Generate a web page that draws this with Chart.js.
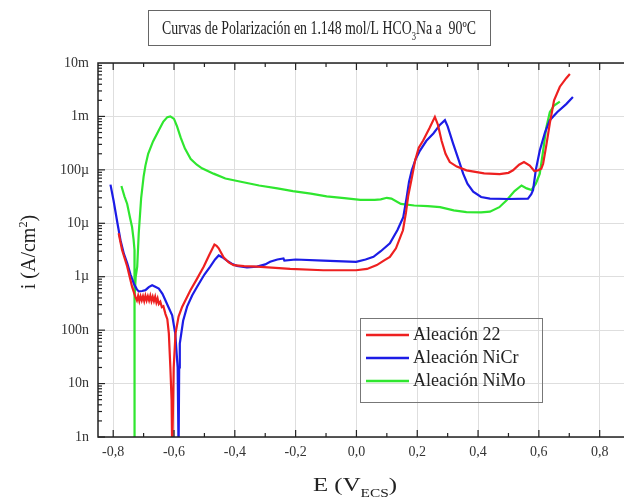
<!DOCTYPE html>
<html>
<head>
<meta charset="utf-8">
<script src="https://cdn.jsdelivr.net/npm/chart.js@4.4.1/dist/chart.umd.min.js"></script>
<style>
  html, body { margin: 0; padding: 0; background: #fff; }
  #wrap { width: 624px; height: 498px; position: relative; }
</style>
</head>
<body>
<div id="wrap"><canvas id="myChart"></canvas></div>
<script>
// series names
let seriesNames = [ 'Aleación 22', 'Aleación NiCr', 'Aleación NiMo' ];

// Aleación 22: potential (V) and current density (A/cm2)
let alloy22E = [ -0.782, -0.771, -0.754, -0.738, -0.727, -0.722, -0.718, -0.714, -0.710, -0.706, -0.702, -0.698,
		-0.694, -0.690, -0.686, -0.682, -0.678, -0.674, -0.670, -0.666, -0.662, -0.658, -0.654, -0.650, -0.645,
		-0.640, -0.635, -0.628, -0.622, -0.617, -0.612, -0.608, -0.606, -0.601, -0.595, -0.585, -0.573, -0.546,
		-0.525, -0.502, -0.485, -0.467, -0.460, -0.453, -0.437, -0.420, -0.404, -0.370, -0.327, -0.218, -0.109,
		-0.001, 0.035, 0.067, 0.090, 0.110, 0.130, 0.153, 0.163, 0.170, 0.182, 0.193, 0.205, 0.219, 0.240, 0.258,
		0.268, 0.280, 0.293, 0.307, 0.330, 0.362, 0.420, 0.471, 0.500, 0.515, 0.535, 0.551, 0.570, 0.585, 0.597,
		0.608, 0.614, 0.625, 0.636, 0.650, 0.669, 0.690, 0.702 ];
let alloy22I = [ 6.5e-6, 3.2e-6, 1.55e-6, 6.5e-7, 4.2e-7, 3.6e-7, 4.4e-7, 3.5e-7, 4.3e-7, 3.6e-7, 4.3e-7, 3.5e-7,
		4.4e-7, 3.6e-7, 4.3e-7, 3.6e-7, 4.4e-7, 3.5e-7, 4.2e-7, 3.5e-7, 4.2e-7, 3.3e-7, 3.9e-7, 3.1e-7, 3.4e-7,
		2.7e-7, 2.8e-7, 2.0e-7, 1.6e-7, 8.7e-8, 2.0e-8, 5e-9, 5e-10, 2.0e-8, 8.7e-8, 1.8e-7, 2.75e-7, 5.6e-7,
		9e-7, 1.55e-6, 2.5e-6, 4.0e-6, 3.8e-6, 3.4e-6, 2.3e-6, 1.85e-6, 1.65e-6, 1.58e-6, 1.55e-6, 1.4e-6, 1.32e-6,
		1.32e-6, 1.4e-6, 1.65e-6, 2.0e-6, 2.35e-6, 3.4e-6, 7.4e-6, 1.6e-5, 3.2e-5, 7e-5, 1.5e-4, 2.6e-4, 3.5e-4, 6e-4, 9.8e-4,
		7e-4, 3.5e-4, 2e-4, 1.4e-4, 1.15e-4, 9.8e-5, 8.6e-5, 8.3e-5, 8.8e-5, 9.8e-5, 1.25e-4, 1.4e-4, 1.2e-4, 9.5e-5, 9.8e-5,
		1.05e-4, 1.3e-4, 3e-4, 7.4e-4, 2e-3, 3.6e-3, 5.2e-3, 6.2e-3 ];

// Aleación NiCr
let nicrE = [ -0.809, -0.799, -0.786, -0.776, -0.765, -0.754, -0.743, -0.732, -0.722, -0.716, -0.705, -0.694,
		-0.683, -0.672, -0.660, -0.650, -0.638, -0.628, -0.617, -0.606, -0.596, -0.588, -0.585, -0.583, -0.581,
		-0.570, -0.557, -0.540, -0.524, -0.500, -0.481, -0.465, -0.453, -0.440, -0.426, -0.410, -0.393, -0.360,
		-0.327, -0.300, -0.284, -0.260, -0.240, -0.237, -0.200, -0.109, -0.001, 0.030, 0.056, 0.080, 0.110, 0.135,
		0.154, 0.165, 0.173, 0.182, 0.195, 0.209, 0.230, 0.253, 0.275, 0.291, 0.300, 0.318, 0.335, 0.351, 0.365,
		0.384, 0.410, 0.439, 0.500, 0.564, 0.575, 0.581, 0.590, 0.603, 0.620, 0.636, 0.660, 0.690, 0.712 ];
let nicrI = [ 5.3e-5, 2.7e-5, 1e-5, 4.8e-6, 2.7e-6, 1.8e-6, 1.1e-6, 7.4e-7, 5.8e-7, 5.3e-7, 5.4e-7, 5.6e-7,
		6.4e-7, 6.9e-7, 6.4e-7, 6e-7, 4.8e-7, 3.6e-7, 2.6e-7, 1.9e-7, 8.7e-8, 2e-8, 5e-10, 2e-8, 5.6e-8,
		1.5e-7, 2.75e-7, 4.5e-7, 6.5e-7, 1.1e-6, 1.55e-6, 2.1e-6, 2.5e-6, 2.3e-6, 2.0e-6, 1.75e-6, 1.6e-6, 1.5e-6,
		1.55e-6, 1.7e-6, 1.9e-6, 2.1e-6, 2.2e-6, 2.0e-6, 2.1e-6, 2.0e-6, 1.9e-6, 2.1e-6, 2.35e-6, 3e-6, 4.2e-6, 7.5e-6,
		1.3e-5, 3e-5, 6e-5, 9.8e-5, 1.6e-4, 2.3e-4, 3.5e-4, 4.8e-4, 7e-4, 8.5e-4, 6.5e-4, 3.1e-4, 1.6e-4, 8.5e-5, 5.5e-5,
		3.9e-5, 3.1e-5, 2.9e-5, 2.85e-5, 2.9e-5, 3.5e-5, 4.2e-5, 1e-4, 2.3e-4, 5e-4, 8.5e-4, 1.2e-3, 1.7e-3, 2.3e-3 ];

// Aleación NiMo
let nimoE = [ -0.773, -0.763, -0.754, -0.745, -0.738, -0.733, -0.730, -0.729, -0.730, -0.731, -0.729, -0.726,
		-0.721, -0.716, -0.708, -0.700, -0.694, -0.685, -0.669, -0.650, -0.635, -0.622, -0.612, -0.600, -0.590,
		-0.578, -0.564, -0.545, -0.525, -0.508, -0.470, -0.431, -0.380, -0.320, -0.260, -0.209, -0.150, -0.098,
		-0.040, 0.013, 0.060, 0.080, 0.100, 0.115, 0.146, 0.190, 0.235, 0.275, 0.320, 0.362, 0.410, 0.439, 0.470,
		0.494, 0.520, 0.543, 0.560, 0.576, 0.590, 0.603, 0.615, 0.624, 0.636, 0.650, 0.669 ];
let nimoI = [ 5e-5, 3.2e-5, 2.3e-5, 1.3e-5, 8.5e-6, 5e-6, 3.2e-6, 1e-6, 4e-7, 5e-10, 4e-7, 1e-6,
		1.55e-6, 6.5e-6, 3e-5, 7.5e-5, 1.2e-4, 2e-4, 3.4e-4, 5.5e-4, 8e-4, 9.7e-4, 1e-3, 9e-4, 6.5e-4,
		4e-4, 2.5e-4, 1.6e-4, 1.25e-4, 1.07e-4, 8.5e-5, 6.9e-5, 6e-5, 5.1e-5, 4.5e-5, 4e-5, 3.6e-5, 3.2e-5,
		2.95e-5, 2.75e-5, 2.75e-5, 2.8e-5, 3.0e-5, 2.9e-5, 2.3e-5, 2.15e-5, 2.1e-5, 2.0e-5, 1.75e-5, 1.62e-5, 1.6e-5, 1.65e-5, 2.0e-5,
		2.7e-5, 4e-5, 5.1e-5, 4.5e-5, 4.2e-5, 5.5e-5, 8.5e-5, 2.5e-4, 6e-4, 1.2e-3, 1.6e-3, 1.9e-3 ];

// axis ticks
let xTickValues = [ -0.8, -0.6, -0.4, -0.2, 0.0, 0.2, 0.4, 0.6, 0.8 ];
let xTickLabels = [ '-0,8', '-0,6', '-0,4', '-0,2', '0,0', '0,2', '0,4', '0,6', '0,8' ];
let yTickValues = [ 1e-9, 1e-8, 1e-7, 1e-6, 1e-5, 1e-4, 1e-3, 1e-2 ];
let yTickLabels = [ '1n', '10n', '100n', '1µ', '10µ', '100µ', '1m', '10m' ];

let colors = [ '#ee2020', '#1c1ce6', '#2fe62f' ];
let serif = "'Liberation Serif', 'DejaVu Serif', serif";

function toPoints(xs, ys) {
	return xs.map((x, i) => ({ x : x, y : ys[i] }));
}

// draw a run of text pieces, some of them sub/superscript
// fitW: squeeze the run horizontally to this width if given
function drawRich(ctx, parts, size, x, y, fitW) {
	let w = 0;
	parts.forEach(p => {
		ctx.font = (p.sub || p.sup ? size * 0.62 : size) + 'px ' + serif;
		w += ctx.measureText(p.t).width;
	});
	let k = fitW ? fitW / w : 1;
	ctx.save();
	ctx.translate(x - w * k / 2, y);
	ctx.scale(k, 1);
	let cx = 0;
	parts.forEach(p => {
		let s = p.sub || p.sup ? size * 0.62 : size;
		ctx.font = s + 'px ' + serif;
		let dy = p.sub ? size * 0.3 : (p.sup ? -size * 0.42 : 0);
		ctx.fillText(p.t, cx, dy);
		cx += ctx.measureText(p.t).width;
	});
	ctx.restore();
}

let frameAndText = {
	id : 'frameAndText',
	afterDraw(chart) {
		let ctx = chart.ctx;
		let a = chart.chartArea;
		let xs = chart.scales.x, ys = chart.scales.y;
		ctx.save();
		ctx.strokeStyle = '#222';
		ctx.fillStyle = '#222';
		ctx.lineWidth = 1.5;
		// frame (left, top, bottom)
		ctx.beginPath();
		ctx.moveTo(a.right + 2, a.top); ctx.lineTo(a.left, a.top);
		ctx.lineTo(a.left, a.bottom); ctx.lineTo(a.right + 2, a.bottom);
		ctx.stroke();
		// x ticks, inward
		ctx.lineWidth = 1.2;
		for (let k = -8; k <= 8; k++) {
			let px = xs.getPixelForValue(k / 10);
			let len = k % 2 === 0 ? 7 : 4;
			ctx.beginPath();
			ctx.moveTo(px, a.bottom); ctx.lineTo(px, a.bottom - len);
			ctx.moveTo(px, a.top); ctx.lineTo(px, a.top + len);
			ctx.stroke();
		}
		// y ticks, inward (log minor ticks)
		for (let d = -9; d < -2; d++) {
			for (let m = 1; m <= 9; m++) {
				let py = ys.getPixelForValue(m * Math.pow(10, d));
				let len = m === 1 ? 7 : 4;
				ctx.beginPath();
				ctx.moveTo(a.left, py); ctx.lineTo(a.left + len, py);
				ctx.stroke();
			}
		}
		ctx.fillStyle = '#222';
		ctx.textBaseline = 'alphabetic';
		// title box
		ctx.lineWidth = 1;
		ctx.strokeStyle = '#666';
		ctx.strokeRect(148.5, 10.5, 342, 35);
		drawRich(ctx, [ { t : 'Curvas de Polarización en 1.148 mol/L HCO' }, { t : '3', sub : true },
				{ t : 'Na a  90ºC' } ], 18.5, 319, 34, 314);
		// x axis title
		drawRich(ctx, [ { t : 'E (V' }, { t : 'ECS', sub : true }, { t : ')' } ], 19, 355, 491, 84);
		// y axis title
		ctx.save();
		ctx.translate(35, 252);
		ctx.rotate(-Math.PI / 2);
		drawRich(ctx, [ { t : 'i (A/cm' }, { t : '2', sup : true }, { t : ')' } ], 20, 0, 0);
		ctx.restore();
		// legend
		ctx.strokeStyle = '#777';
		ctx.lineWidth = 1;
		ctx.strokeRect(360.5, 318.5, 182, 84);
		chart.data.datasets.forEach((ds, i) => {
			let y = 335 + i * 23;
			ctx.strokeStyle = ds.borderColor;
			ctx.lineWidth = 2.5;
			ctx.beginPath();
			ctx.moveTo(366, y); ctx.lineTo(409, y);
			ctx.stroke();
			ctx.font = '18px ' + serif;
			ctx.textBaseline = 'middle';
			ctx.fillText(ds.label, 413, y);
		});
		ctx.restore();
	}
};

let ctx = document.getElementById('myChart').getContext('2d');
let curveChart = new Chart(ctx, {
	type : 'scatter',
	data : {
		datasets : [
			{ label : seriesNames[0], data : toPoints(alloy22E, alloy22I), borderColor : colors[0] },
			{ label : seriesNames[1], data : toPoints(nicrE, nicrI), borderColor : colors[1] },
			{ label : seriesNames[2], data : toPoints(nimoE, nimoI), borderColor : colors[2] }
		].map(d => Object.assign(d, { showLine : true, pointRadius : 0, borderWidth : 2.2, tension : 0, fill : false }))
	},
	options : {
		responsive : true,
		maintainAspectRatio : false,
		animation : false,
		layout : { padding : { left : 0, right : 0, top : 63, bottom : 0 } },
		plugins : {
			legend : { display : false },
			tooltip : { enabled : false }
		},
		scales : {
			x : {
				type : 'linear',
				min : -0.85,
				max : 0.88,
				afterBuildTicks : s => { s.ticks = xTickValues.map(v => ({ value : v })); },
				afterFit : s => { s.height = 61; },
				ticks : {
					callback : (v, i) => xTickLabels[i],
					font : { family : serif, size : 14 },
					color : '#333',
					padding : 7,
					maxRotation : 0,
					autoSkip : false
				},
				grid : { color : '#dedede', lineWidth : 1, drawTicks : false },
				border : { display : false }
			},
			y : {
				type : 'logarithmic',
				min : 1e-9,
				max : 1e-2,
				afterBuildTicks : s => { s.ticks = yTickValues.map(v => ({ value : v })); },
				afterFit : s => { s.width = 98; },
				ticks : {
					callback : (v, i) => yTickLabels[i],
					font : { family : serif, size : 14 },
					color : '#333',
					padding : 9,
					autoSkip : false
				},
				grid : { color : '#dedede', lineWidth : 1, drawTicks : false },
				border : { display : false }
			}
		}
	},
	plugins : [ frameAndText ]
});
</script>
</body>
</html>
